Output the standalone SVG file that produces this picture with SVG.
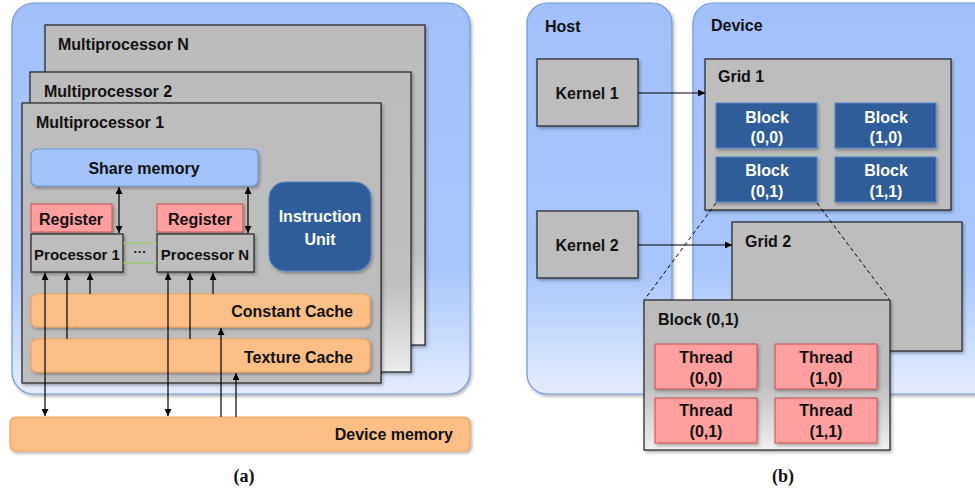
<svg xmlns="http://www.w3.org/2000/svg" width="975" height="490" viewBox="0 0 975 490">
<defs>
<linearGradient id="gBlue" x1="0" y1="0" x2="0" y2="1">
<stop offset="0" stop-color="#a2c1fb"/><stop offset="0.68" stop-color="#a8c6fb"/><stop offset="1" stop-color="#e4edfd"/>
</linearGradient>
<linearGradient id="gGray" x1="0" y1="0" x2="0" y2="1">
<stop offset="0" stop-color="#bcbcbc"/><stop offset="0.7" stop-color="#bfbfbf"/><stop offset="1" stop-color="#ececec"/>
</linearGradient>
<linearGradient id="gGray2" x1="0" y1="0" x2="0" y2="1">
<stop offset="0" stop-color="#bcbcbc"/><stop offset="0.55" stop-color="#bfbfbf"/><stop offset="1" stop-color="#efefef"/>
</linearGradient>
<filter id="sh" x="-10%" y="-10%" width="130%" height="130%">
<feDropShadow dx="1.5" dy="2" stdDeviation="1.5" flood-color="#000" flood-opacity="0.3"/>
</filter>
<marker id="ah" viewBox="0 0 10 10" refX="10" refY="5" markerWidth="7" markerHeight="7" markerUnits="userSpaceOnUse" orient="auto-start-reverse">
<path d="M0,0 L10,5 L0,10 z" fill="#000"/>
</marker>
</defs>
<style>
text{font-family:"Liberation Sans",Arial,sans-serif;font-weight:bold;font-size:16px;fill:#111}
.w{fill:#fff}
.c{text-anchor:middle}
.e{text-anchor:end}
.panel{fill:url(#gBlue);stroke:#6d98d6;stroke-width:1.2}
.mp{fill:url(#gGray);stroke:#222;stroke-width:1.2}
.gray{fill:#bdbdbd;stroke:#222;stroke-width:1.2}
.reg{fill:#ff9f9f;stroke:#c84f4f;stroke-width:1}
.dark{fill:#2e5d99;stroke:#5284c6;stroke-width:1}
.org{fill:#fbbf85;stroke:#f3a35a;stroke-width:1.2}
.sm{fill:#a3c3fb;stroke:#6d98d6;stroke-width:1.2}
.ln{stroke:#000;stroke-width:1.2;fill:none}
.dash{stroke:#000;stroke-width:1;stroke-dasharray:4,3;fill:none}
.cap{font-family:"Liberation Serif","Times New Roman",serif;font-size:18px}
</style>

<!-- Panel (a) -->
<g id="gpu">
<rect class="panel" x="12" y="3" width="458" height="391" rx="22" filter="url(#sh)"/>
</g>
<g id="mpN">
<rect class="mp" x="45" y="25" width="380" height="320" filter="url(#sh)"/>
<text x="58" y="50">Multiprocessor N</text>
</g>
<g id="mp2">
<rect class="mp" x="30" y="72" width="381" height="300" filter="url(#sh)"/>
<text x="44" y="97">Multiprocessor 2</text>
</g>
<g id="mp1">
<rect class="gray" x="22" y="103" width="359" height="280" filter="url(#sh)"/>
<text x="36" y="128">Multiprocessor 1</text>
</g>
<g id="shareMemory">
<rect class="sm" x="31" y="149" width="227" height="37" rx="6" filter="url(#sh)"/>
<text class="c" x="144" y="174">Share memory</text>
</g>
<g id="instructionUnit">
<rect class="dark" x="269" y="182" width="102" height="89" rx="16" filter="url(#sh)"/>
<text class="c w" x="320" y="222">Instruction</text>
<text class="c w" x="320" y="245">Unit</text>
</g>
<g id="register1">
<rect class="reg" x="31" y="204" width="81" height="28" filter="url(#sh)"/>
<text class="c" x="71" y="225">Register</text>
</g>
<g id="register2">
<rect class="reg" x="157" y="204" width="86" height="28" filter="url(#sh)"/>
<text class="c" x="200" y="225">Register</text>
</g>
<g id="processor1">
<rect class="gray" x="31" y="234" width="92" height="38" filter="url(#sh)"/>
<text class="c" x="77" y="260" style="font-size:15px">Processor 1</text>
</g>
<g id="processorN">
<rect class="gray" x="157" y="234" width="97" height="38" filter="url(#sh)"/>
<text class="c" x="205" y="260" style="font-size:15px">Processor N</text>
</g>
<g id="constantCache">
<rect class="org" x="31" y="294" width="339" height="33" rx="6" filter="url(#sh)"/>
<text class="e" x="353" y="317">Constant Cache</text>
</g>
<g id="textureCache">
<rect class="org" x="31" y="339" width="339" height="33" rx="6" filter="url(#sh)"/>
<text class="e" x="353" y="363">Texture Cache</text>
</g>
<g id="deviceMemory">
<rect class="org" x="10" y="417" width="460" height="34" rx="6" filter="url(#sh)"/>
<text class="e" x="453" y="440">Device memory</text>
</g>
<text class="cap c" x="244" y="482">(a)</text>

<!-- Panel (b) -->
<g id="host">
<rect class="panel" x="527" y="3" width="145" height="391" rx="20" filter="url(#sh)"/>
<text x="545" y="32">Host</text>
</g>
<g id="device">
<rect class="panel" x="693" y="3" width="305" height="391" rx="20" filter="url(#sh)"/>
<text x="711" y="31">Device</text>
</g>
<g id="kernel1">
<rect class="gray" x="537" y="59" width="101" height="67" filter="url(#sh)"/>
<text class="c" x="587" y="99">Kernel 1</text>
</g>
<g id="kernel2">
<rect class="gray" x="537" y="211" width="101" height="67" filter="url(#sh)"/>
<text class="c" x="587" y="251">Kernel 2</text>
</g>
<g id="grid1">
<rect class="gray" x="705" y="59" width="246" height="151" filter="url(#sh)"/>
<text x="718" y="82">Grid 1</text>
</g>
<g id="block00">
<rect class="dark" x="716" y="103" width="101" height="45" filter="url(#sh)"/>
<text class="c w" x="767" y="123">Block</text>
<text class="c w" x="767" y="143">(0,0)</text>
</g>
<g id="block10">
<rect class="dark" x="835" y="103" width="101" height="45" filter="url(#sh)"/>
<text class="c w" x="886" y="123">Block</text>
<text class="c w" x="886" y="143">(1,0)</text>
</g>
<g id="block01">
<rect class="dark" x="716" y="157" width="101" height="45" filter="url(#sh)"/>
<text class="c w" x="767" y="176">Block</text>
<text class="c w" x="767" y="197">(0,1)</text>
</g>
<g id="block11">
<rect class="dark" x="835" y="157" width="101" height="45" filter="url(#sh)"/>
<text class="c w" x="886" y="176">Block</text>
<text class="c w" x="886" y="197">(1,1)</text>
</g>
<g id="grid2">
<rect class="gray" x="732" y="222" width="230" height="129" filter="url(#sh)"/>
<text x="745" y="247">Grid 2</text>
</g>

<!-- Connectors -->
<g id="connectors">
<line class="ln" x1="119" y1="187" x2="119" y2="233" marker-start="url(#ah)" marker-end="url(#ah)"/>
<line class="ln" x1="248" y1="187" x2="248" y2="233" marker-start="url(#ah)" marker-end="url(#ah)"/>
<line x1="123" y1="243" x2="157" y2="243" stroke="#8fd14f" stroke-width="1"/>
<line x1="123" y1="263" x2="157" y2="263" stroke="#8fd14f" stroke-width="1"/>
<line class="ln" x1="45" y1="273" x2="45" y2="416" marker-start="url(#ah)" marker-end="url(#ah)"/>
<line class="ln" x1="67" y1="339" x2="67" y2="273" marker-end="url(#ah)"/>
<line class="ln" x1="90" y1="294" x2="90" y2="273" marker-end="url(#ah)"/>
<line class="ln" x1="168" y1="273" x2="168" y2="416" marker-start="url(#ah)" marker-end="url(#ah)"/>
<line class="ln" x1="190" y1="339" x2="190" y2="273" marker-end="url(#ah)"/>
<line class="ln" x1="213" y1="294" x2="213" y2="273" marker-end="url(#ah)"/>
<line class="ln" x1="221" y1="417" x2="221" y2="328" marker-end="url(#ah)"/>
<line class="ln" x1="236" y1="417" x2="236" y2="373" marker-end="url(#ah)"/>
<line class="ln" x1="638" y1="93" x2="705" y2="93" marker-end="url(#ah)"/>
<line class="ln" x1="638" y1="245" x2="732" y2="245" marker-end="url(#ah)"/>
<line class="dash" x1="716" y1="203" x2="645" y2="299"/>
<line class="dash" x1="817" y1="203" x2="889" y2="299"/>
</g>
<text class="c" x="140" y="256" style="font-size:13px">···</text>

<g id="blockDetail">
<rect x="644" y="300" width="246" height="150" fill="url(#gGray2)" stroke="#222" stroke-width="1.2" filter="url(#sh)"/>
<text x="658" y="325">Block (0,1)</text>
</g>
<g id="thread00">
<rect class="reg" x="655" y="344" width="102" height="45" filter="url(#sh)"/>
<text class="c" x="706" y="363">Thread</text>
<text class="c" x="706" y="384">(0,0)</text>
</g>
<g id="thread10">
<rect class="reg" x="775" y="344" width="102" height="45" filter="url(#sh)"/>
<text class="c" x="826" y="363">Thread</text>
<text class="c" x="826" y="384">(1,0)</text>
</g>
<g id="thread01">
<rect class="reg" x="655" y="398" width="102" height="45" filter="url(#sh)"/>
<text class="c" x="706" y="416">Thread</text>
<text class="c" x="706" y="437">(0,1)</text>
</g>
<g id="thread11">
<rect class="reg" x="775" y="398" width="102" height="45" filter="url(#sh)"/>
<text class="c" x="826" y="416">Thread</text>
<text class="c" x="826" y="437">(1,1)</text>
</g>
<text class="cap c" x="783" y="482">(b)</text>
</svg>
